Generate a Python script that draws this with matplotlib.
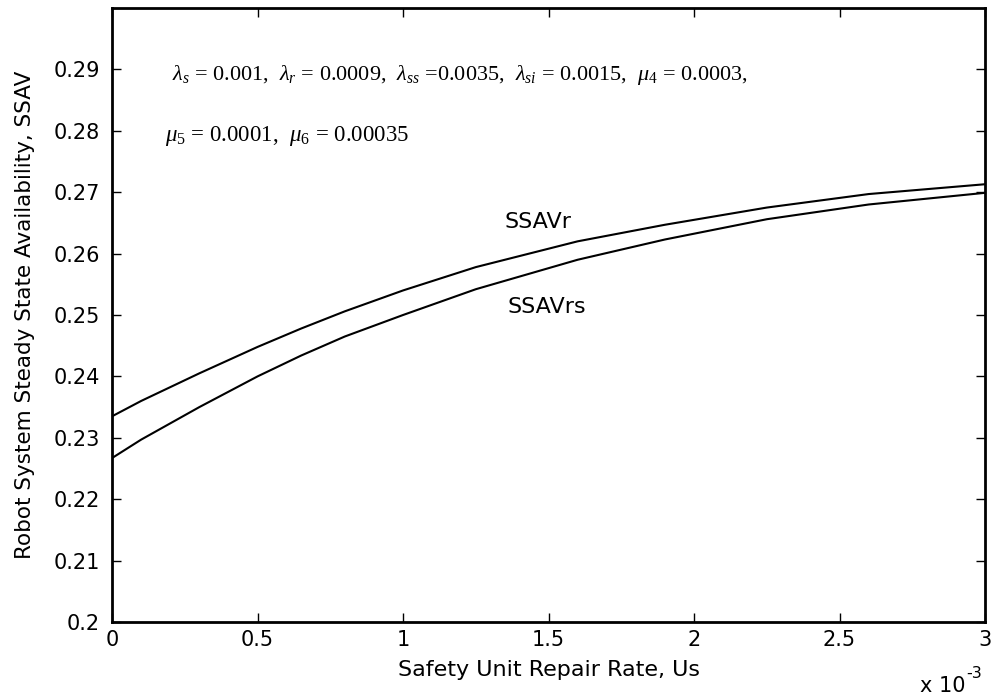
import matplotlib
matplotlib.use("Agg")
import matplotlib.pyplot as plt

plt.rcParams['mathtext.fontset'] = 'custom'
plt.rcParams['mathtext.rm'] = 'Liberation Serif'
plt.rcParams['mathtext.it'] = 'Liberation Serif:italic'

# Safety unit repair rate (Us) and steady state availability of the two models
us = [0.0, 0.0001, 0.0003, 0.0005, 0.00065, 0.0008, 0.001, 0.00125,
      0.0016, 0.0019, 0.00225, 0.0026, 0.003]
ssav_r = [0.2335, 0.2360, 0.2405, 0.2448, 0.2478, 0.2506, 0.2540, 0.2578,
          0.2620, 0.2647, 0.2675, 0.2697, 0.2713]
ssav_rs = [0.2267, 0.2297, 0.2350, 0.2400, 0.2434, 0.2465, 0.2500, 0.2542,
           0.2590, 0.2623, 0.2656, 0.2680, 0.2699]

x_ticks = [0.0, 0.0005, 0.001, 0.0015, 0.002, 0.0025, 0.003]
x_tick_labels = ['0', '0.5', '1', '1.5', '2', '2.5', '3']
y_ticks = [0.2, 0.21, 0.22, 0.23, 0.24, 0.25, 0.26, 0.27, 0.28, 0.29]
y_tick_labels = ['0.2', '0.21', '0.22', '0.23', '0.24', '0.25', '0.26',
                 '0.27', '0.28', '0.29']

fig = plt.figure(figsize=(9.94, 6.98), dpi=100)
ax = fig.add_axes([0.1127, 0.1089, 0.8783, 0.8796])

ax.plot(us, ssav_r, color='black', lw=1.5)
ax.plot(us, ssav_rs, color='black', lw=1.5)

ax.set_xlim(0, 0.003)
ax.set_ylim(0.2, 0.3)
ax.set_xticks(x_ticks)
ax.set_xticklabels(x_tick_labels)
ax.set_yticks(y_ticks)
ax.set_yticklabels(y_tick_labels)

sans = 'DejaVu Sans'
ax.tick_params(direction='in', length=6.5, width=1.0, top=True, right=True,
               labelsize=15)
ax.tick_params(axis='x', pad=6)
ax.tick_params(axis='y', pad=8.5)
for lab in ax.get_xticklabels() + ax.get_yticklabels():
    lab.set_family(sans)
for sp in ax.spines.values():
    sp.set_linewidth(2.0)

ax.set_xlabel('Safety Unit Repair Rate, Us', fontsize=16, family=sans)
ax.set_ylabel('Robot System Steady State Availability, SSAV', fontsize=15.5,
              family=sans)
ax.xaxis.set_label_coords(0.5, -0.062)
ax.yaxis.set_label_coords(-0.088, 0.5)

# axis multiplier shown below the right end of the x axis
fig.text(0.9256, 0.0086, 'x 10', fontsize=15, family=sans, ha='left', va='baseline')
fig.text(0.9718, 0.0287, '-3', fontsize=11.5, family=sans, ha='left', va='baseline')

ax.text(0.00135, 0.2651, 'SSAVr', fontsize=16, family=sans, va='center')
ax.text(0.00136, 0.2513, 'SSAVrs', fontsize=16, family=sans, va='center')

line1 = (r'$\lambda_s$ = 0.001,  $\lambda_r$ = 0.0009,  $\lambda_{ss}$ =0.0035,  '
         r'$\lambda_{si}$ = 0.0015,  $\mu_4$ = 0.0003,')
line2 = r'$\mu_5$ = 0.0001,  $\mu_6$ = 0.00035'
ax.text(0.000206, 0.2891, line1, fontsize=16, family='Liberation Serif', va='center')
ax.text(0.000182, 0.2791, line2, fontsize=16.5, family='Liberation Serif', va='center')

fig.savefig('out.png', dpi=100)
